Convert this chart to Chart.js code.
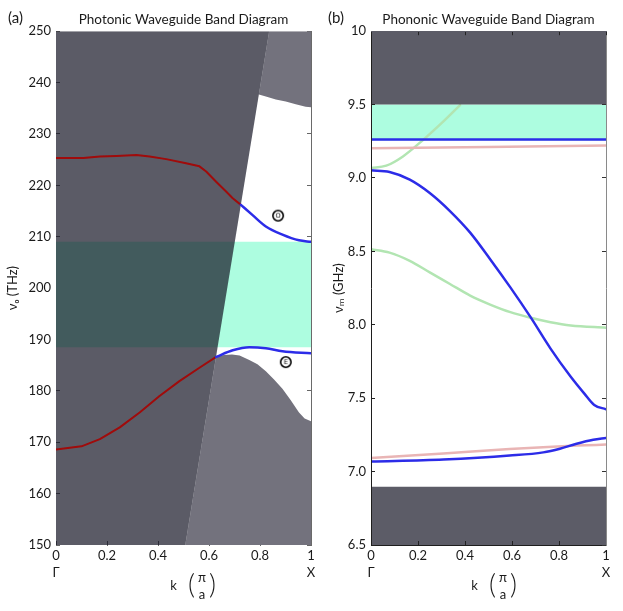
<!DOCTYPE html>
<html><head><meta charset="utf-8">
<script src="https://cdn.jsdelivr.net/npm/chart.js@4.4.1/dist/chart.umd.min.js"></script>
<style>
html,body{margin:0;padding:0;background:#fff;}
#wrap{position:relative;width:623px;height:611px;overflow:hidden;}
#ca{position:absolute;left:0;top:0;}
#cb{position:absolute;left:318px;top:0;}
</style></head><body>
<div id="wrap">
<canvas id="ca" width="318" height="611"></canvas>
<canvas id="cb" width="305" height="611"></canvas>
</div>
<script>
// ---------- shared tick data ----------
const kTicks = [0, 0.2, 0.4, 0.6, 0.8, 1];
const kTickLabels = ['0', '0.2', '0.4', '0.6', '0.8', '1'];
const kPointLabels = ['Γ', '', '', '', '', 'X'];

// ---------- panel (a): photonic ----------
const titleA = 'Photonic Waveguide Band Diagram';
const yTitleA = 'νₒ (THz)';
const nuTicksA = [150, 160, 170, 180, 190, 200, 210, 220, 230, 240, 250];
const lightLineK = [0.507, 0.836];
const lightLineNu = [150, 250];
const gapA = [188.5, 209.0];
const upperBulkK = [0.797, 0.823, 0.862, 0.901, 0.940, 0.979, 1.0];
const upperBulkNu = [237.7, 237.3, 236.7, 236.3, 235.8, 235.3, 235.2];
const lowerBulkK = [0.628, 0.66, 0.69, 0.72, 0.758, 0.79, 0.823, 0.855, 0.888, 0.92, 0.953, 0.975, 1.0];
const lowerBulkNu = [186.8, 187.0, 187.1, 186.9, 186.0, 185.2, 183.8, 182.2, 180.4, 178.2, 175.8, 174.6, 174.1];
const oddGuidedK = [0, 0.107, 0.172, 0.237, 0.315, 0.367, 0.432, 0.51, 0.5625, 0.589, 0.628, 0.667, 0.693, 0.725];
const oddGuidedNu = [225.3, 225.3, 225.6, 225.7, 225.9, 225.6, 225.1, 224.3, 223.7, 222.7, 220.7, 218.8, 217.5, 216.2];
const oddBoundK = [0.725, 0.771, 0.823, 0.888, 0.953, 1.0];
const oddBoundNu = [216.2, 214.2, 212.0, 210.4, 209.3, 209.0];
const evenGuidedK = [0, 0.1, 0.172, 0.25, 0.328, 0.406, 0.484, 0.5625, 0.628];
const evenGuidedNu = [168.6, 169.2, 170.6, 172.9, 175.8, 179.0, 181.9, 184.5, 186.6];
const evenBoundK = [0.628, 0.693, 0.758, 0.823, 0.888, 1.0];
const evenBoundNu = [186.6, 187.9, 188.5, 188.3, 187.7, 187.3];
const markerLettersA = ['O', 'E'];
const markerKA = [0.871, 0.901];
const markerNuA = [214.1, 185.6];

// ---------- panel (b): phononic ----------
const titleB = 'Phononic Waveguide Band Diagram';
const yTitleB = 'νₘ (GHz)';
const nuTicksB = [6.5, 7.0, 7.5, 8.0, 8.5, 9.0, 9.5, 10];
const nuTickLabelsB = ['6.5', '7.0', '7.5', '8.0', '8.5', '9.0', '9.5', '10'];
const gapB = [9.255, 9.5];
const bulkTopB = [9.5, 10];
const bulkBottomB = [6.5, 6.897];
const blueFlatK = [0, 1];
const blueFlatNu = [9.262, 9.262];
const blueMidK = [0, 0.079, 0.165, 0.25, 0.336, 0.422, 0.507, 0.593, 0.679, 0.764, 0.85, 0.907, 0.95, 1.0];
const blueMidNu = [9.052, 9.041, 8.989, 8.898, 8.775, 8.628, 8.447, 8.255, 8.052, 7.838, 7.646, 7.533, 7.454, 7.425];
const blueLowK = [0, 0.308, 0.59, 0.733, 0.804, 0.875, 0.946, 1.0];
const blueLowNu = [7.068, 7.082, 7.109, 7.131, 7.156, 7.19, 7.217, 7.229];
const pinkHighK = [0, 1];
const pinkHighNu = [9.203, 9.221];
const pinkLowK = [0, 0.308, 0.59, 0.875, 1.0];
const pinkLowNu = [7.093, 7.123, 7.154, 7.177, 7.184];
const greenHighK = [0, 0.065, 0.136, 0.222, 0.307, 0.379];
const greenHighNu = [9.068, 9.084, 9.147, 9.26, 9.384, 9.497];
const greenLowK = [0, 0.079, 0.165, 0.25, 0.336, 0.422, 0.507, 0.593, 0.679, 0.764, 0.85, 1.0];
const greenLowNu = [8.515, 8.492, 8.436, 8.357, 8.278, 8.199, 8.138, 8.086, 8.048, 8.018, 7.996, 7.980];
const markerLettersB = ['E', 'O'];
const markerKB = [-0.046, -0.046];
const markerNuB = [9.275, 9.108];

// ---------- helpers ----------
const FONT = 'Lato, "Open Sans", "DejaVu Sans", sans-serif';
Chart.defaults.font.family = FONT;
Chart.defaults.color = '#1a1a1a';
const DARK = '#5c5c67', LIGHT = '#73727d', CYAN = '#adfde0';
const BLUE = '#2c2ce8', RED = '#a00b0b', PINK = '#e9b5b5', GREEN = '#b2e5b2';
const pts = (ks, vs) => ks.map((k, i) => ({x: k, y: vs[i]}));
function kLL(nu) {
  return lightLineK[0] + (nu - lightLineNu[0]) / (lightLineNu[1] - lightLineNu[0]) * (lightLineK[1] - lightLineK[0]);
}
function shape(data, color, order) {
  return {data, showLine: true, fill: 'shape', backgroundColor: color, borderColor: 'rgba(0,0,0,0)',
          borderWidth: 0, pointRadius: 0, tension: 0, order};
}
function curve(data, color, width, order, smooth) {
  const d = {data, showLine: true, fill: false, borderColor: color, borderWidth: width, pointRadius: 0, order,
             borderCapStyle: 'round', borderJoinStyle: 'round'};
  if (smooth) d.cubicInterpolationMode = 'monotone'; else d.tension = 0;
  return d;
}
function makeMarker(letter) {
  const c = document.createElement('canvas');
  c.width = 14; c.height = 14;
  const g = c.getContext('2d');
  g.beginPath(); g.arc(7, 7, 5.2, 0, Math.PI * 2);
  g.fillStyle = '#fff'; g.fill();
  g.lineWidth = 1.6; g.strokeStyle = '#000'; g.stroke();
  g.fillStyle = '#000'; g.font = '6.5px "DejaVu Sans"'; g.textAlign = 'center'; g.textBaseline = 'middle';
  g.fillText(letter, 7, 7.4);
  return c;
}
function markers(letters, ks, vs) {
  return letters.map((L, i) => ({data: [{x: ks[i], y: vs[i]}], showLine: false, pointStyle: makeMarker(L),
    pointRadius: 6, clip: false, order: 0}));
}
const xTickCb = (v, i) => kPointLabels[i] ? [kTickLabels[i], kPointLabels[i]] : kTickLabels[i];

const decor = {
  id: 'decor',
  afterDraw(chart, args, opts) {
    const ctx = chart.ctx, a = chart.chartArea;
    const cx = (a.left + a.right) / 2 + (opts.dx || 0);
    ctx.save();
    ctx.fillStyle = '#1a1a1a';
    ctx.textBaseline = 'middle';
    ctx.textAlign = 'left';
    ctx.font = '15px ' + FONT;
    ctx.fillText(opts.label, opts.lx, 18);
    ctx.textAlign = 'center';
    ctx.font = '13px ' + FONT;
    ctx.fillText('k', cx - 14, a.bottom + 41);
    ctx.font = '300 27px ' + FONT;
    ctx.fillText('(', cx + 4, a.bottom + 40);
    ctx.fillText(')', cx + 25, a.bottom + 40);
    ctx.font = '13px ' + FONT;
    ctx.fillText('π', cx + 14.5, a.bottom + 33);
    ctx.fillText('a', cx + 14.5, a.bottom + 50);
    ctx.restore();
  }
};

function baseOptions(o) {
  return {
    animation: false, responsive: false, events: [],
    layout: {padding: {left: 0, right: o.padRight, top: 0, bottom: 0}},
    plugins: {
      legend: {display: false}, tooltip: {enabled: false},
      title: {display: true, text: o.title, fullSize: false, padding: {top: 12, bottom: 3},
              font: {size: 13.5, weight: 'normal', family: FONT}, color: '#1a1a1a'},
      decor: {label: o.label, lx: o.lx}
    },
    scales: {
      x: {type: 'linear', position: 'bottom', min: 0, max: 1,
          afterBuildTicks: s => { s.ticks = kTicks.map(v => ({value: v})); },
          afterFit: s => { s.height = 66; s.paddingLeft = 0; s.paddingRight = 0; },
          ticks: {callback: xTickCb, padding: 6, maxRotation: 0, autoSkip: false,
                  font: {size: 13, lineHeight: 1.3}, color: '#1a1a1a'},
          grid: {drawOnChartArea: false, tickLength: -4, tickColor: o.tickColor, z: o.gridZ},
          border: {color: o.borderColor, width: 1, z: o.borderZ}},
      y: {type: 'linear', position: 'left', min: o.ymin, max: o.ymax,
          afterBuildTicks: s => { s.ticks = o.yTicks.map(v => ({value: v})); },
          afterFit: s => { s.width = o.leftWidth; s.paddingTop = 0; s.paddingBottom = 0; },
          ticks: {callback: o.yCb, padding: 9, autoSkip: false, font: {size: 13}, color: '#1a1a1a'},
          title: {display: true, text: o.yTitle, padding: {top: o.yTitlePad, bottom: 0},
                  font: {size: 13}, color: '#1a1a1a'},
          grid: {drawOnChartArea: false, tickLength: -4, tickColor: o.tickColor, z: o.gridZ},
          border: {color: o.borderColor, width: 1, z: o.borderZ}},
      y2: {type: 'linear', position: 'right', min: o.ymin, max: o.ymax,
           afterBuildTicks: s => { s.ticks = o.yTicks.map(v => ({value: v})); },
           afterFit: s => { s.width = 0; s.paddingTop = 0; s.paddingBottom = 0; },
           ticks: {display: false},
           grid: {drawOnChartArea: false, tickLength: -4, tickColor: o.rightTickColor, z: o.gridZ},
           border: {color: o.rightBorder, width: 1, z: o.borderZ}}
    }
  };
}

// ---------- chart (a) ----------
const coneA = [{x: 0, y: lightLineNu[0]}, {x: kLL(lightLineNu[0]), y: lightLineNu[0]},
               {x: kLL(lightLineNu[1]), y: lightLineNu[1]}, {x: 0, y: lightLineNu[1]}];
const bandA = [{x: 0, y: gapA[0]}, {x: 1, y: gapA[0]}, {x: 1, y: gapA[1]}, {x: 0, y: gapA[1]}];
const upperBulk = [{x: kLL(upperBulkNu[0]), y: upperBulkNu[0]}]
  .concat(pts(upperBulkK.slice(1), upperBulkNu.slice(1)))
  .concat([{x: 1, y: lightLineNu[1]}, {x: kLL(lightLineNu[1]), y: lightLineNu[1]}]);
const lowerBulk = [{x: kLL(lightLineNu[0]), y: lightLineNu[0]}, {x: kLL(lowerBulkNu[0]), y: lowerBulkNu[0]}]
  .concat(pts(lowerBulkK.slice(1), lowerBulkNu.slice(1)))
  .concat([{x: 1, y: lightLineNu[0]}]);

const optsA = baseOptions({title: titleA, label: '(a)', lx: 8, padRight: 6, leftWidth: 56, yTitlePad: 5,
  ymin: 150, ymax: 250, yTicks: nuTicksA, yTitle: yTitleA, yCb: v => String(v),
  tickColor: '#666', rightTickColor: '#666', gridZ: -1, borderZ: 0, borderColor: 'rgba(0,0,0,0)', rightBorder: '#6a6a6a'});
optsA.plugins.decor.dx = 4;

new Chart(document.getElementById('ca'), {
  type: 'scatter',
  data: {datasets: [
    shape(bandA, CYAN, 10),
    shape(upperBulk, LIGHT, 9),
    shape(lowerBulk, LIGHT, 9),
    shape(coneA, 'rgba(18,18,34,0.69)', 8),
    curve(pts(oddGuidedK, oddGuidedNu), RED, 2, 5, false),
    curve(pts(evenGuidedK, evenGuidedNu), RED, 2, 5, false),
    curve(pts(oddBoundK, oddBoundNu), BLUE, 2.5, 4, true),
    curve(pts(evenBoundK, evenBoundNu), BLUE, 2.5, 4, true),
    ...markers(markerLettersA, markerKA, markerNuA)
  ]},
  options: optsA,
  plugins: [decor]
});

// ---------- chart (b) ----------
const rect = (y0, y1) => [{x: 0, y: y0}, {x: 1, y: y0}, {x: 1, y: y1}, {x: 0, y: y1}];
const optsB = baseOptions({title: titleB, label: '(b)', lx: 10, padRight: 17, leftWidth: 53, yTitlePad: 13,
  ymin: 6.5, ymax: 10, yTicks: nuTicksB, yTitle: yTitleB, yCb: (v, i) => nuTickLabelsB[i],
  tickColor: '#222', rightTickColor: '#333', gridZ: 1, borderZ: 1, borderColor: '#1e1e1e', rightBorder: '#8a8a8a'});
optsB.scales.x2 = {type: 'linear', position: 'top', min: 0, max: 1,
  afterBuildTicks: s => { s.ticks = kTicks.map(v => ({value: v})); },
  afterFit: s => { s.height = 0; s.paddingLeft = 0; s.paddingRight = 0; },
  ticks: {display: false},
  grid: {drawOnChartArea: false, tickLength: -4, tickColor: '#222', z: 1},
  border: {color: DARK, width: 1, z: 1}};

new Chart(document.getElementById('cb'), {
  type: 'scatter',
  data: {datasets: [
    shape(rect(gapB[0], gapB[1]), CYAN, 10),
    curve(pts(pinkHighK, pinkHighNu), PINK, 2.5, 7, true),
    curve(pts(pinkLowK, pinkLowNu), PINK, 2.5, 7, true),
    curve(pts(greenHighK, greenHighNu), GREEN, 2.5, 7, true),
    curve(pts(greenLowK, greenLowNu), GREEN, 2.5, 7, true),
    curve(pts(blueFlatK, blueFlatNu), BLUE, 2.5, 5, true),
    curve(pts(blueMidK, blueMidNu), BLUE, 2.5, 5, true),
    curve(pts(blueLowK, blueLowNu), BLUE, 2.5, 5, true),
    shape(rect(bulkTopB[0], bulkTopB[1]), DARK, 3),
    shape(rect(bulkBottomB[0], bulkBottomB[1]), DARK, 3),
    ...markers(markerLettersB, markerKB, markerNuB)
  ]},
  options: optsB,
  plugins: [decor]
});
</script>
</body></html>
